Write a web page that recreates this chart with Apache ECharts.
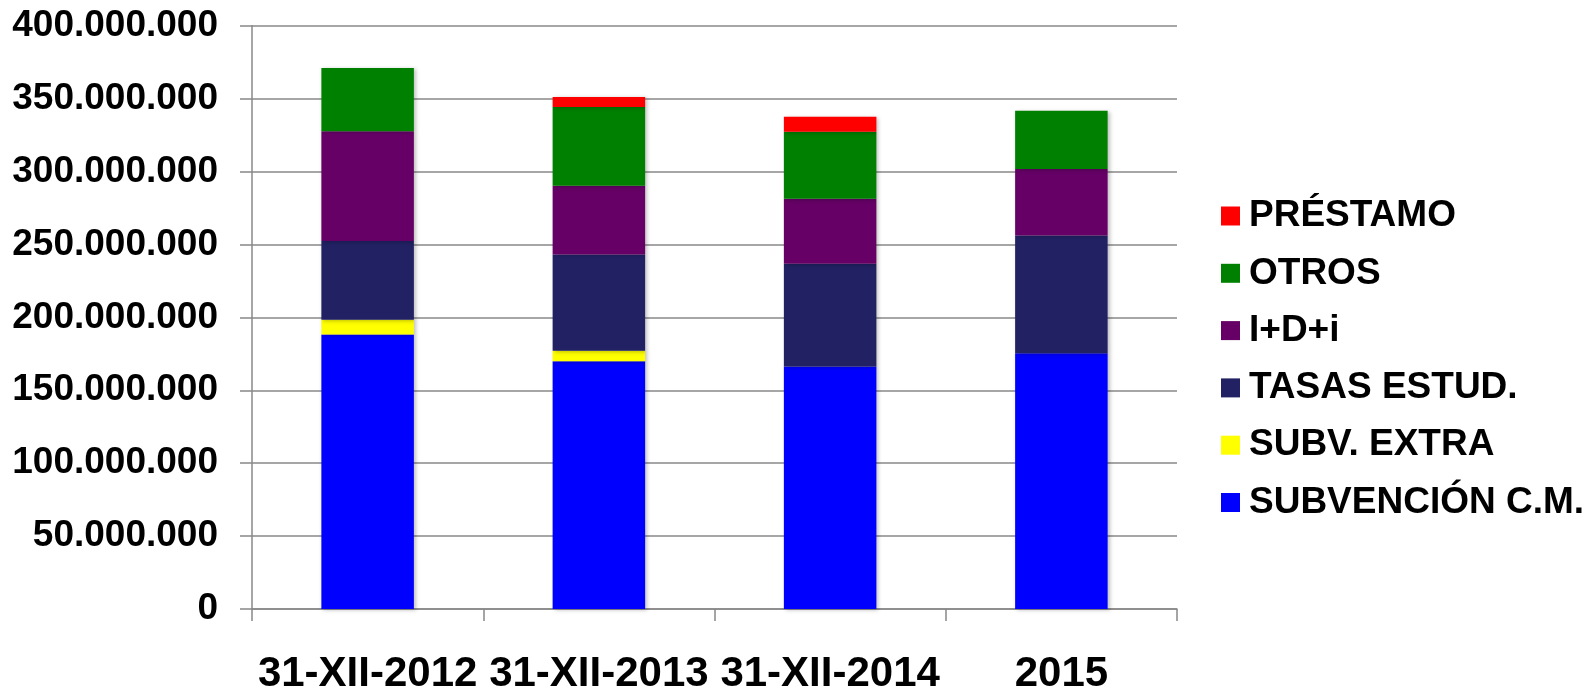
<!DOCTYPE html>
<html>
<head>
<meta charset="utf-8">
<script src="https://cdn.jsdelivr.net/npm/echarts@6/dist/echarts.min.js"></script>
<style>
html,body{margin:0;padding:0;background:#fff;}
#chart{width:1589px;height:687px;}
</style>
</head>
<body>
<div id="chart"></div>
<script>
const categories = ['31-XII-2012', '31-XII-2013', '31-XII-2014', '2015'];
const subvencionCM = [188300000, 169900000, 166300000, 175400000];
const subvExtra = [10100000, 7200000, 0, 0];
const tasasEstud = [53900000, 66000000, 70400000, 80800000];
const idi = [75400000, 47200000, 44700000, 45600000];
const otros = [43300000, 53900000, 45800000, 39900000];
const prestamo = [0, 6900000, 10400000, 0];
const yTicks = [0, 50000000, 100000000, 150000000, 200000000, 250000000, 300000000, 350000000, 400000000];

const FONT = '"Liberation Sans", Arial, sans-serif';
function fmt(v) {
  return String(Math.round(v)).replace(/\B(?=(\d{3})+(?!\d))/g, '.');
}
const seriesDefs = [
  ['SUBVENCIÓN C.M.', subvencionCM, '#0000FF'],
  ['SUBV. EXTRA', subvExtra, '#FFFF00'],
  ['TASAS ESTUD.', tasasEstud, '#212164'],
  ['I+D+i', idi, '#660066'],
  ['OTROS', otros, '#008000'],
  ['PRÉSTAMO', prestamo, '#FF0000']
];
const chart = echarts.init(document.getElementById('chart'), null, {renderer: 'canvas'});
chart.setOption({
  animation: false,
  backgroundColor: '#ffffff',
  grid: {left: 252, right: 412, top: 25.7, bottom: 78, containLabel: false, outerBoundsMode: 'none'},
  legend: {
    orient: 'vertical',
    left: 1221,
    top: 196,
    padding: 0,
    itemWidth: 19,
    itemHeight: 19,
    itemGap: 17.3,
    icon: 'rect',
    data: seriesDefs.map(s => s[0]).reverse(),
    textStyle: {fontFamily: FONT, fontWeight: 'bold', fontSize: 37, color: '#000', lineHeight: 40, padding: [0, 0, 0, 4]},
    itemStyle: {borderWidth: 0}
  },
  xAxis: {
    type: 'category',
    data: categories,
    axisLine: {show: true, lineStyle: {color: '#888', width: 1.5}},
    axisTick: {show: true, length: 12, lineStyle: {color: '#888', width: 1.5}},
    axisLabel: {fontFamily: FONT, fontWeight: 'bold', fontSize: 42, color: '#000', margin: 44, interval: 0}
  },
  yAxis: {
    type: 'value',
    min: 0,
    max: 400000000,
    interval: 50000000,
    axisLine: {show: true, lineStyle: {color: '#888', width: 1.5}},
    axisTick: {show: true, length: 12, lineStyle: {color: '#888', width: 1.5}},
    splitLine: {show: true, lineStyle: {color: '#888', width: 1.5}},
    axisLabel: {fontFamily: FONT, fontWeight: 'bold', fontSize: 37, color: '#000', margin: 34, formatter: fmt}
  },
  series: seriesDefs.map(s => ({
    name: s[0],
    type: 'bar',
    stack: 'total',
    data: s[1],
    barWidth: '40%',
    itemStyle: {color: s[2], shadowColor: 'rgba(0,0,0,0.25)', shadowBlur: 4, shadowOffsetX: 2, shadowOffsetY: 1},
    emphasis: {disabled: true}
  }))
});
</script>
</body>
</html>
